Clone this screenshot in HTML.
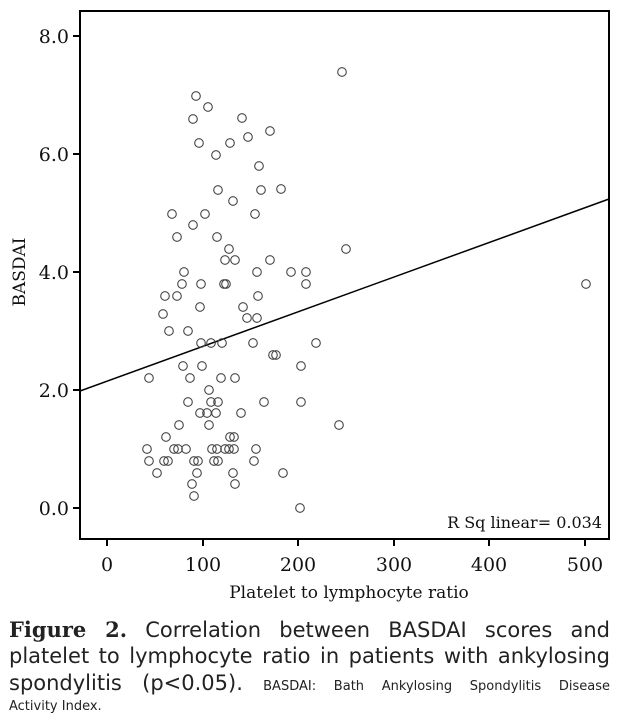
<!DOCTYPE html>
<html><head><meta charset="utf-8"><style>
body{margin:0;background:#fff;width:620px;height:727px;overflow:hidden;position:relative;font-family:"DejaVu Serif",serif;}
.l{position:absolute;left:9px;width:601px;text-align:justify;text-align-last:justify;white-space:nowrap;font-family:"DejaVu Sans",sans-serif;color:#222;}
</style></head><body>
<svg width="620" height="610" style="position:absolute;left:0;top:0" font-family="DejaVu Serif, serif">
<rect x="80" y="11" width="529" height="528" fill="none" stroke="#000" stroke-width="2"/>
<g stroke="#000" stroke-width="2">
<line x1="73" y1="36" x2="80" y2="36"/><line x1="73" y1="154" x2="80" y2="154"/><line x1="73" y1="272" x2="80" y2="272"/><line x1="73" y1="390" x2="80" y2="390"/><line x1="73" y1="508" x2="80" y2="508"/>
<line x1="107" y1="539" x2="107" y2="546"/><line x1="203" y1="539" x2="203" y2="546"/><line x1="298" y1="539" x2="298" y2="546"/><line x1="394" y1="539" x2="394" y2="546"/><line x1="489" y1="539" x2="489" y2="546"/><line x1="585" y1="539" x2="585" y2="546"/>
</g>
<g font-size="19" text-anchor="end" fill="#111">
<text x="69" y="43">8.0</text><text x="69" y="161">6.0</text><text x="69" y="279">4.0</text><text x="69" y="397">2.0</text><text x="69" y="515">0.0</text>
</g>
<g font-size="19" text-anchor="middle" fill="#111">
<text x="107" y="571">0</text><text x="203" y="571">100</text><text x="298" y="571">200</text><text x="394" y="571">300</text><text x="489" y="571">400</text><text x="585" y="571">500</text>
<text x="349" y="598" font-size="17">Platelet to lymphocyte ratio</text>
<text transform="translate(25,272) rotate(-90)" font-size="17">BASDAI</text>
</g>
<text x="602" y="528" font-size="16" text-anchor="end" fill="#111">R Sq linear= 0.034</text>
<line x1="80" y1="391" x2="609" y2="199" stroke="#000" stroke-width="1.5"/>
<g fill="none" stroke="#444" stroke-width="1.1">
<circle cx="342" cy="72" r="4.3"/><circle cx="196" cy="96" r="4.3"/><circle cx="208" cy="107" r="4.3"/><circle cx="193" cy="119" r="4.3"/><circle cx="242" cy="118" r="4.3"/><circle cx="270" cy="131" r="4.3"/><circle cx="248" cy="137" r="4.3"/><circle cx="199" cy="143" r="4.3"/><circle cx="230" cy="143" r="4.3"/><circle cx="216" cy="155" r="4.3"/><circle cx="259" cy="166" r="4.3"/><circle cx="218" cy="190" r="4.3"/><circle cx="261" cy="190" r="4.3"/><circle cx="281" cy="189" r="4.3"/><circle cx="233" cy="201" r="4.3"/><circle cx="172" cy="214" r="4.3"/><circle cx="205" cy="214" r="4.3"/><circle cx="255" cy="214" r="4.3"/><circle cx="193" cy="225" r="4.3"/><circle cx="177" cy="237" r="4.3"/><circle cx="217" cy="237" r="4.3"/><circle cx="229" cy="249" r="4.3"/><circle cx="346" cy="249" r="4.3"/><circle cx="225" cy="260" r="4.3"/><circle cx="235" cy="260" r="4.3"/><circle cx="270" cy="260" r="4.3"/><circle cx="184" cy="272" r="4.3"/><circle cx="257" cy="272" r="4.3"/><circle cx="291" cy="272" r="4.3"/><circle cx="306" cy="272" r="4.3"/><circle cx="182" cy="284" r="4.3"/><circle cx="201" cy="284" r="4.3"/><circle cx="224" cy="284" r="4.3"/><circle cx="226" cy="284" r="4.3"/><circle cx="306" cy="284" r="4.3"/><circle cx="586" cy="284" r="4.3"/><circle cx="165" cy="296" r="4.3"/><circle cx="177" cy="296" r="4.3"/><circle cx="258" cy="296" r="4.3"/><circle cx="200" cy="307" r="4.3"/><circle cx="243" cy="307" r="4.3"/><circle cx="163" cy="314" r="4.3"/><circle cx="247" cy="318" r="4.3"/><circle cx="257" cy="318" r="4.3"/><circle cx="169" cy="331" r="4.3"/><circle cx="188" cy="331" r="4.3"/><circle cx="201" cy="343" r="4.3"/><circle cx="211" cy="343" r="4.3"/><circle cx="222" cy="343" r="4.3"/><circle cx="253" cy="343" r="4.3"/><circle cx="316" cy="343" r="4.3"/><circle cx="273" cy="355" r="4.3"/><circle cx="276" cy="355" r="4.3"/><circle cx="183" cy="366" r="4.3"/><circle cx="202" cy="366" r="4.3"/><circle cx="301" cy="366" r="4.3"/><circle cx="149" cy="378" r="4.3"/><circle cx="190" cy="378" r="4.3"/><circle cx="221" cy="378" r="4.3"/><circle cx="235" cy="378" r="4.3"/><circle cx="209" cy="390" r="4.3"/><circle cx="188" cy="402" r="4.3"/><circle cx="211" cy="402" r="4.3"/><circle cx="218" cy="402" r="4.3"/><circle cx="264" cy="402" r="4.3"/><circle cx="301" cy="402" r="4.3"/><circle cx="200" cy="413" r="4.3"/><circle cx="207" cy="413" r="4.3"/><circle cx="216" cy="413" r="4.3"/><circle cx="241" cy="413" r="4.3"/><circle cx="179" cy="425" r="4.3"/><circle cx="209" cy="425" r="4.3"/><circle cx="339" cy="425" r="4.3"/><circle cx="166" cy="437" r="4.3"/><circle cx="230" cy="437" r="4.3"/><circle cx="234" cy="437" r="4.3"/><circle cx="147" cy="449" r="4.3"/><circle cx="174" cy="449" r="4.3"/><circle cx="178" cy="449" r="4.3"/><circle cx="186" cy="449" r="4.3"/><circle cx="212" cy="449" r="4.3"/><circle cx="217" cy="449" r="4.3"/><circle cx="225" cy="449" r="4.3"/><circle cx="229" cy="449" r="4.3"/><circle cx="234" cy="449" r="4.3"/><circle cx="256" cy="449" r="4.3"/><circle cx="149" cy="461" r="4.3"/><circle cx="164" cy="461" r="4.3"/><circle cx="168" cy="461" r="4.3"/><circle cx="194" cy="461" r="4.3"/><circle cx="198" cy="461" r="4.3"/><circle cx="214" cy="461" r="4.3"/><circle cx="218" cy="461" r="4.3"/><circle cx="254" cy="461" r="4.3"/><circle cx="157" cy="473" r="4.3"/><circle cx="197" cy="473" r="4.3"/><circle cx="233" cy="473" r="4.3"/><circle cx="283" cy="473" r="4.3"/><circle cx="192" cy="484" r="4.3"/><circle cx="235" cy="484" r="4.3"/><circle cx="194" cy="496" r="4.3"/><circle cx="300" cy="508" r="4.3"/>
</g>
</svg>
<div class="l" style="top:617px;font-size:21px;"><b style="font-family:'DejaVu Serif',serif">Figure 2.</b> Correlation between BASDAI scores and</div>
<div class="l" style="top:644px;font-size:21px;">platelet to lymphocyte ratio in patients with ankylosing</div>
<div class="l" style="top:671px;font-size:21px;">spondylitis (p&lt;0.05). <span style="font-size:13px">BASDAI: Bath Ankylosing Spondylitis Disease</span></div>
<div style="position:absolute;left:9px;top:699px;font-size:13px;font-family:'DejaVu Sans',sans-serif;color:#222">Activity Index.</div>
</body></html>
